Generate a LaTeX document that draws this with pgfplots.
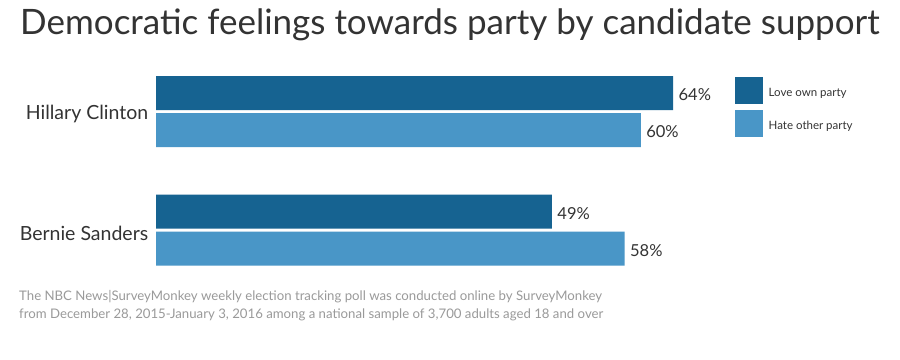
\documentclass[border=0pt]{standalone}
\usepackage{pgfplots}
\pgfplotsset{compat=1.18}
\usepackage{fontspec}
\setmainfont{Lato}
\definecolor{darkb}{HTML}{166391}
\definecolor{lightb}{HTML}{4996C7}
\definecolor{txt}{HTML}{333333}
\definecolor{note}{HTML}{9A9A9A}
\begin{document}
\begin{tikzpicture}
\useasboundingbox[fill=white] (0,0) rectangle (900bp,-360bp);
\node[anchor=base west, inner sep=0, font=\fontsize{35bp}{40bp}\selectfont, text=txt] at (20bp,-34bp) {Democratic feelings towards party by candidate support};
\begin{axis}[
  at={(156bp,-360bp)}, anchor=south west,
  scale only axis, width=646.4bp, height=360bp,
  xmin=0, xmax=80, ymin=0, ymax=360, y dir=reverse,
  axis line style={draw=none}, tick style={draw=none},
  xtick=\empty,
  ytick={114,233}, yticklabels={Hillary Clinton, Bernie Sanders},
  yticklabel style={font=\fontsize{19.5bp}{21bp}\selectfont, text=txt},
  xbar, bar shift=0pt, bar width=34bp,
  clip=false,
  point meta=x,
  /pgf/number format/assume math mode=true,
  nodes near coords={\pgfmathprintnumber{\pgfplotspointmeta}\%},
  every node near coord/.append style={font=\fontsize{16.5bp}{18bp}\selectfont, text=txt, anchor=west, xshift=2bp, yshift=-2bp},
  legend style={at={(axis cs:71.66,77)}, anchor=north west, draw=none, fill=none, inner sep=0pt, row sep=6bp,
    font=\fontsize{11.5bp}{13bp}\selectfont, text=txt, cells={anchor=west},
    nodes={inner sep=0pt, outer sep=0pt}},
  legend image code/.code={\fill[#1] (0bp,-13.5bp) rectangle (27.5bp,13.5bp);},
  legend cell align=left,
]
\addplot[fill=darkb, draw=none] coordinates {(64,93) (49,211.5)};
\addplot[fill=lightb, draw=none] coordinates {(60,130) (58,248.5)};
\legend{\hspace{6bp}\raisebox{-4bp}{Love own party}, \hspace{6bp}\raisebox{-4bp}{Hate other party}}
\end{axis}
\node[anchor=base west, inner sep=0, align=left, font=\fontsize{13.2bp}{18bp}\selectfont, text=note] at (19bp,-318bp) {The NBC News|SurveyMonkey weekly election tracking poll was conducted online by SurveyMonkey\\from December 28, 2015-January 3, 2016 among a national sample of 3,700 adults aged 18 and over};
\end{tikzpicture}
\end{document}
